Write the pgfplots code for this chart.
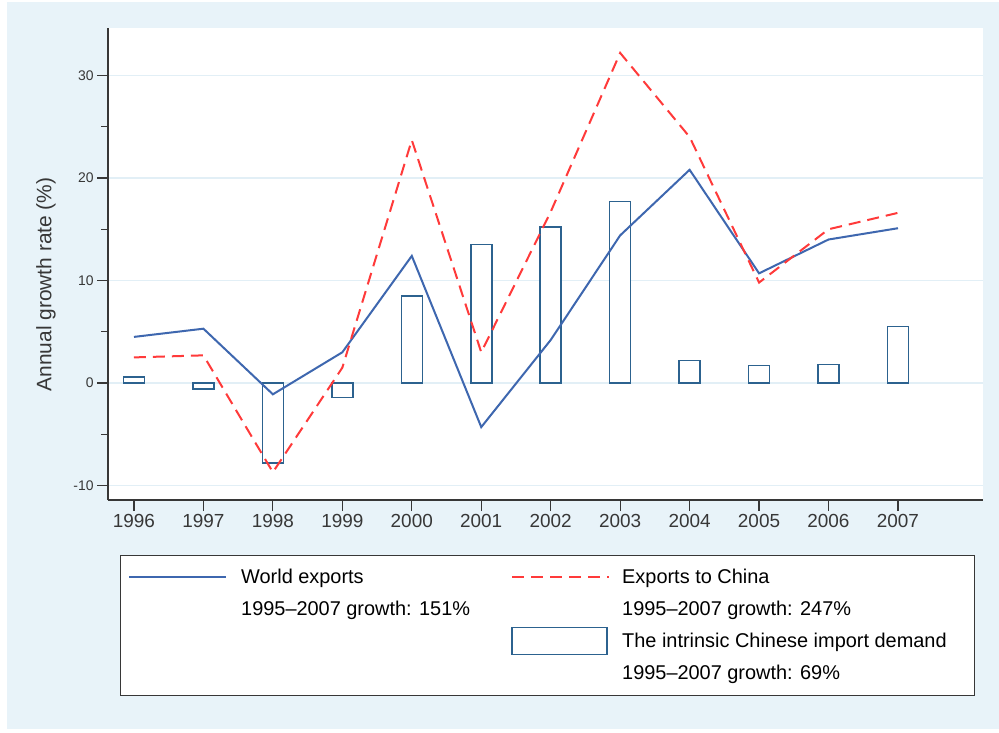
\documentclass[border=0pt]{standalone}
\usepackage{fontspec}
\setmainfont{Liberation Sans}
\usepackage{pgfplots}
\pgfplotsset{compat=1.18}
\definecolor{bgblue}{RGB}{232,243,249}
\definecolor{gridblue}{RGB}{226,239,246}
\definecolor{worldblue}{RGB}{62,103,175}
\definecolor{chinared}{RGB}{255,58,58}
\definecolor{baredge}{RGB}{44,98,143}
\definecolor{axgray}{RGB}{55,55,55}

\begin{document}
\begin{tikzpicture}
\useasboundingbox (0,0) rectangle (999bp,-733bp);
\fill[white] (0,0) rectangle (999bp,-733bp);
\fill[bgblue] (7bp,-2bp) rectangle (999bp,-729bp);
\fill[white] (108bp,-28bp) rectangle (983bp,-500bp);
\begin{axis}[
    at={(108bp,-500bp)}, anchor=south west,
    scale only axis, width=875bp, height=472bp,
    xmin=1995.626, xmax=2008.224,
    ymin=-11.41, ymax=34.63,
    axis lines*=left,
    axis line style={draw=axgray, line width=1.3bp},
    xtick={1996,...,2007},
    ytick={-10,0,10,20,30},
    minor ytick={-5,5,15,25},
    tick align=outside,
    major tick length=11bp, minor tick length=7bp,
    every tick/.style={draw=axgray, line width=1.2bp},
    ymajorgrids,
    major grid style={draw=gridblue, line width=1.2bp},
    /pgf/number format/assume math mode=true,
    xticklabel style={font=\fontsize{19}{19}\selectfont, text=axgray,
      /pgf/number format/1000 sep={}},
    yticklabel style={font=\fontsize{14}{14}\selectfont, text=axgray},
    ylabel={Annual growth rate (\%)},
    ylabel style={font=\fontsize{21}{21}\selectfont, text=axgray,
      at={(axis description cs:-0.0709,0.4566)}, anchor=center},
    legend columns=2,
    legend cell align=left,
    legend style={at={(axis description cs:0.01371,-0.11653)},
      anchor=north west, draw=axgray, fill=white,
      inner xsep=8bp, inner ysep=6bp,
      font=\fontsize{20}{24}\selectfont,
      nodes={inner sep=0pt}, row sep=0pt, column sep=0pt},
]
% intrinsic Chinese import demand (bars)
\addplot[ybar, bar width=21bp, draw=baredge, line width=1.5bp, fill=white, forget plot]
  coordinates {(1996,0.6) (1997,-0.6) (1998,-7.8) (1999,-1.4) (2000,8.5) (2001,13.5)
    (2002,15.2) (2003,17.7) (2004,2.2) (2005,1.7) (2006,1.8) (2007,5.5)};
% world exports
\addplot[worldblue, line width=2bp, forget plot]
  coordinates {(1996,4.5) (1997,5.3) (1998,-1.1) (1999,3.0) (2000,12.4) (2001,-4.3)
    (2002,4.2) (2003,14.4) (2004,20.8) (2005,10.7) (2006,14.0) (2007,15.1)};
% exports to China
\addplot[chinared, line width=2bp, dash pattern=on 12bp off 7bp, forget plot]
  coordinates {(1996,2.5) (1997,2.7) (1998,-8.7) (1999,1.5) (2000,23.7) (2001,3.0)
    (2002,16.7) (2003,32.2) (2004,24.0) (2005,9.8) (2006,15.0) (2007,16.6)};

\addlegendimage{legend image code/.code={
  \path[draw=none, fill=none] (0bp,-16bp) rectangle (112bp,16bp);
  \draw[worldblue, line width=2bp] (0bp,0bp) -- (97bp,0bp);}}
\addlegendentry{\makebox[270bp][l]{World exports}}
\addlegendimage{legend image code/.code={
  \path[draw=none, fill=none] (0bp,-16bp) rectangle (110bp,16bp);
  \draw[chinared, line width=2bp, dash pattern=on 12bp off 7bp] (0bp,0bp) -- (97bp,0bp);}}
\addlegendentry{\makebox[344bp][l]{Exports to China}}
\addlegendimage{legend image code/.code={\path[draw=none] (0bp,-16bp) -- (0bp,16bp);}}
\addlegendentry{\makebox[270bp][l]{1995\textendash 2007 growth: 151\%}}
\addlegendimage{legend image code/.code={\path[draw=none] (0bp,-16bp) -- (0bp,16bp);}}
\addlegendentry{\makebox[344bp][l]{1995\textendash 2007 growth: 247\%}}
\addlegendimage{legend image code/.code={\path[draw=none] (0bp,-16bp) -- (0bp,16bp);}}
\addlegendentry{\makebox[270bp][l]{\strut}}
\addlegendimage{legend image code/.code={
  \path[draw=none, fill=none] (0bp,-16bp) rectangle (110bp,16bp);
  \draw[baredge, line width=1.5bp, fill=white] (0bp,-13.5bp) rectangle (95bp,13.5bp);}}
\addlegendentry{\makebox[344bp][l]{The intrinsic Chinese import demand}}
\addlegendimage{legend image code/.code={\path[draw=none] (0bp,-16bp) -- (0bp,16bp);}}
\addlegendentry{\makebox[270bp][l]{\strut}}
\addlegendimage{legend image code/.code={\path[draw=none] (0bp,-16bp) -- (0bp,16bp);}}
\addlegendentry{\makebox[344bp][l]{1995\textendash 2007 growth: 69\%}}
\end{axis}
\end{tikzpicture}
\end{document}
